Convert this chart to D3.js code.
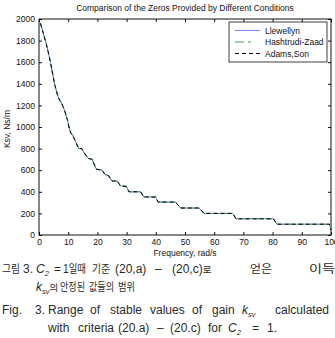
<!DOCTYPE html>
<html lang="ko">
<head>
<meta charset="UTF-8">
<title>Comparison of the Zeros Provided by Different Conditions</title>
<script src="https://d3js.org/d3.v7.min.js"></script>
<style>
  body { margin: 0; background: #fff; }
  svg { display: block; font-family: "Liberation Sans", Arial, sans-serif; }
</style>
</head>
<body>
<svg width="335" height="338"></svg>
<script>
// values (frequency in rad/s, Ksv in Ns/m)
const freq = [0.5, 2.5, 3.7, 5.4, 6.3, 7.0, 7.6, 8.8, 9.8, 10.4, 11.0, 11.6, 12.6, 13.6, 14.6, 15.5, 16.8, 18.2,
  19.6, 21.6, 22.6, 23.8, 25.0, 26.8, 27.9, 29.9, 30.8, 34.8, 35.9, 39.9, 40.8, 46.7, 48.5, 54.8, 56.5,
  66.3, 67.5, 80.3, 81.5, 99.5, 100];
const ksv = [1960, 1770, 1630, 1390, 1300, 1250, 1230, 1150, 1060, 980, 940, 920, 860, 800, 800, 760, 710, 700,
  610, 600, 560, 550, 500, 500, 455, 450, 400, 400, 352, 352, 305, 305, 250, 250, 200,
  200, 150, 150, 100, 100, 45];
const seriesNames = ['Llewellyn', 'Hashtrudi-Zaad', 'Adams,Son'];
const xTicks = [0, 10, 20, 30, 40, 50, 60, 70, 80, 90, 100];
const yTicks = [0, 200, 400, 600, 800, 1000, 1200, 1400, 1600, 1800, 2000];

const svg = d3.select('svg');
const x = d3.scaleLinear().domain([0, 100]).range([39, 331]);
const y = d3.scaleLinear().domain([0, 2000]).range([235, 19]);
const pts = freq.map((f, i) => ({f: f, k: ksv[i]}));

// axes, ticks pointing inside, MATLAB style box
const fs = '8.5px';
const fmt = d3.format('d');
svg.append('g').attr('transform', 'translate(0,235)')
  .call(d3.axisBottom(x).tickValues(xTicks).tickFormat(fmt).tickSizeInner(-3).tickSizeOuter(0).tickPadding(4))
  .call(g => g.select('.domain').remove());
svg.append('g').attr('transform', 'translate(39,0)')
  .call(d3.axisLeft(y).tickValues(yTicks).tickFormat(fmt).tickSizeInner(-3).tickSizeOuter(0).tickPadding(4))
  .call(g => g.select('.domain').remove());
svg.append('g').attr('transform', 'translate(0,19)')
  .call(d3.axisTop(x).tickValues(xTicks).tickFormat('').tickSizeInner(-3).tickSizeOuter(0))
  .call(g => g.select('.domain').remove());
svg.append('g').attr('transform', 'translate(331,0)')
  .call(d3.axisRight(y).tickValues(yTicks).tickFormat('').tickSizeInner(-3).tickSizeOuter(0))
  .call(g => g.select('.domain').remove());
svg.selectAll('.tick text').attr('font-size', fs).attr('font-family', '"Liberation Sans", Arial, sans-serif').attr('fill', '#111');
svg.selectAll('.tick line').attr('stroke', '#111');

svg.append('rect')
  .attr('x', 39).attr('y', 19).attr('width', 292).attr('height', 216)
  .attr('fill', 'none').attr('stroke', '#111').attr('stroke-width', 1);

// the three curves overlap exactly
const styles = [
  {color: '#8080ea', dash: null, w: 1},
  {color: '#3f9f4f', dash: '6,2,1.5,2', w: 1},
  {color: '#000', dash: '4,3', w: 1}
];
const line = d3.line().x(d => x(d.f)).y(d => y(d.k));
seriesNames.forEach((name, i) => {
  svg.append('path')
    .attr('d', line(pts))
    .attr('fill', 'none')
    .attr('stroke', styles[i].color)
    .attr('stroke-width', styles[i].w)
    .attr('stroke-dasharray', styles[i].dash);
});

// legend
const lg = svg.append('g');
lg.append('rect').attr('x', 229).attr('y', 22).attr('width', 98).attr('height', 40)
  .attr('fill', '#fff').attr('stroke', '#111').attr('stroke-width', 0.8);
seriesNames.forEach((name, i) => {
  const ly = 30.5 + i * 11.5;
  lg.append('line').attr('x1', 235).attr('x2', 260).attr('y1', ly).attr('y2', ly)
    .attr('stroke', styles[i].color).attr('stroke-width', styles[i].w)
    .attr('stroke-dasharray', i == 1 ? '9,4,3,9' : styles[i].dash);
  lg.append('text').attr('x', 265).attr('y', ly + 3).attr('font-size', fs).attr('fill', '#111').text(name);
});

// titles
svg.append('text').attr('x', 185).attr('y', 11).attr('text-anchor', 'middle')
  .attr('font-size', fs).attr('fill', '#111').text('Comparison of the Zeros Provided by Different Conditions');
svg.append('text').attr('x', 185).attr('y', 256).attr('text-anchor', 'middle')
  .attr('font-size', fs).attr('fill', '#111').text('Frequency, rad/s');
svg.append('text').attr('transform', 'translate(10,129) rotate(-90)').attr('text-anchor', 'middle')
  .attr('font-size', fs).attr('fill', '#111').text('Ksv, Ns/m');

// figure caption: one text per word, so the justified gaps of the paper can be kept.
// the korean face in the paper is narrow, so hangul words get squeezed to their width
const C2 = [['C', 'i'], ['2', 'sub']];
const KSV = [['k', 'i'], ['sv', 'sub']];
const caption = [
  {y: 273, words: [[2, '그림', 18], [23, '3.'], [36, C2], [54, '='], [63, '1일때', 23], [92, '기준', 18], [115, '(20,a)'],
    [155, '–'], [172, '(20,c)로'], [250, '얻은', 22], [309, '이득', 26]]},
  {y: 291, words: [[36, KSV.concat([['의', '']])], [60, '안정된', 25], [89, '값들의', 25], [118, '범위', 17]]},
  {y: 314, words: [[2, 'Fig.'], [35, '3.'], [48, 'Range'], [90, 'of'], [110, 'stable'], [150, 'values'],
    [192, 'of'], [212, 'gain'], [242, KSV], [275, 'calculated']]},
  {y: 332, words: [[48, 'with'], [78, 'criteria'], [118, '(20.a)'], [157, '–'], [170, '(20.c)'], [208, 'for'],
    [228, C2], [252, '='], [267, '1.']]}
];
const hangul = /[\uAC00-\uD7A3]+|[^\uAC00-\uD7A3]+/g;
const cap = svg.append('g').attr('font-size', '12px').attr('fill', '#2a2a2a')
  .attr('font-family', '"Liberation Sans", "Noto Sans CJK KR", sans-serif');
caption.forEach(row => {
  row.words.forEach(w => {
    const t = cap.append('text').attr('x', w[0]).attr('y', row.y);
    if (w[2]) t.attr('textLength', w[2]).attr('lengthAdjust', 'spacingAndGlyphs');
    const segs = typeof w[1] === 'string' ? w[1].match(hangul).map(s => [s, '']) : w[1];
    let shift = 0;
    segs.forEach(s => {
      const ts = t.append('tspan').text(s[0]);
      if (/[\uAC00-\uD7A3]/.test(s[0])) {
        ts.attr('font-size', w[2] ? '11px' : '9.5px').attr('font-family', '"Noto Sans CJK KR", sans-serif');
      }
      if (s[1] === 'i') ts.attr('font-style', 'italic');
      let target = 0;
      if (s[1] === 'sub') { ts.attr('font-style', 'italic').attr('font-size', '7.5px'); target = 3; }
      if (target !== shift) { ts.attr('dy', target - shift); shift = target; }
    });
  });
});
</script>
</body>
</html>
